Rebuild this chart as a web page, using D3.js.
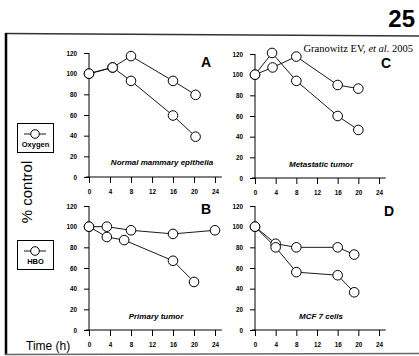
<!DOCTYPE html>
<html><head><meta charset="utf-8">
<script src="https://cdn.jsdelivr.net/npm/d3@7"></script>
<style>
html,body{margin:0;padding:0;background:#fff;}
svg{display:block;}
text{font-family:"Liberation Sans",Arial,sans-serif;}
</style></head>
<body>
<script>
// ---- data ----
const timeTicks = [0, 4, 8, 12, 16, 20, 24];
const pctTicks = [0, 20, 40, 60, 80, 100, 120];
const panelLetters = ["A", "C", "B", "D"];
const panelTitles = ["Normal mammary epithelia", "Metastatic tumor", "Primary tumor", "MCF 7 cells"];
const seriesNames = ["Oxygen", "HBO"];
// [time (h), % control]
const oxygenA = [[0,100],[4.5,106],[8,117],[16,93],[20.3,79.5]];
const hboA    = [[0,100],[4.5,106],[8,93],[16,59.5],[20.3,39]];
const oxygenC = [[0,100],[3.4,107],[8,117.5],[16,90],[20,86.5]];
const hboC    = [[0,100],[3.3,121],[8,94],[16,60],[20,46.5]];
const oxygenB = [[0,100],[3.4,100],[8,96.5],[16,93],[24,96.5]];
const hboB    = [[0,100],[3.4,90],[6.7,87],[16,67],[20,46.5]];
const oxygenD = [[0,100],[4,83.5],[8,80],[16,80],[19.2,73]];
const hboD    = [[0,100],[4,80],[8,56],[16,53],[19.2,36.5]];
const panelSeries = [[oxygenA, hboA], [oxygenC, hboC], [oxygenB, hboB], [oxygenD, hboD]];

// ---- layout ----
const W = 419, H = 356;
const svg = d3.select("body").append("svg").attr("width", W).attr("height", H);

// page number
svg.append("text").attr("x", 415).attr("y", 27).attr("text-anchor", "end")
  .style("font-family", "'Liberation Sans Narrow','Arial Narrow','Liberation Sans',sans-serif")
  .style("font-weight", "bold").style("font-size", "24px").text("25");

// frame
svg.append("line").attr("x1", 5).attr("y1", 33.5).attr("x2", 419).attr("y2", 36)
  .attr("stroke", "#333").attr("stroke-width", 1.6);
svg.append("line").attr("x1", 6).attr("y1", 33).attr("x2", 6).attr("y2", 355)
  .attr("stroke", "#000").attr("stroke-width", 2.5);
svg.append("line").attr("x1", 5).attr("y1", 354.5).attr("x2", 419).attr("y2", 353.5)
  .attr("stroke", "#666").attr("stroke-width", 1.5);

// citation
const cit = svg.append("text").attr("x", 413).attr("y", 52).attr("text-anchor", "end")
  .style("font-family", "'Liberation Serif','Times New Roman',serif").style("font-size", "10.5px");
cit.append("tspan").text("Granowitz EV, ");
cit.append("tspan").style("font-style", "italic").text("et al.");
cit.append("tspan").text(" 2005");

const panelGeo = [
  {x0: 89, x1: 215, y0: 177, y1: 53, lx: 206, ly: 67, tx: 162, ty: 165},
  {x0: 255, x1: 379, y0: 178, y1: 54, lx: 386, ly: 68, tx: 321, ty: 167},
  {x0: 89, x1: 215, y0: 330, y1: 206, lx: 206, ly: 214, tx: 156, ty: 319},
  {x0: 255, x1: 379, y0: 330, y1: 206, lx: 389, ly: 216, tx: 321, ty: 319}
];

panelGeo.forEach((g, i) => {
  const x = d3.scaleLinear().domain([0, 24]).range([g.x0, g.x1]);
  const y = d3.scaleLinear().domain([0, 120]).range([g.y0, g.y1]);
  const gp = svg.append("g");

  // y axis
  const ya = gp.append("g").attr("transform", `translate(${g.x0},0)`)
    .call(d3.axisLeft(y).tickValues(pctTicks).tickSize(5).tickPadding(7));
  ya.select(".domain").attr("d", `M0,${g.y0}V${g.y1}`).attr("stroke-width", 1);
  ya.selectAll("text").style("font-size", "6.3px").style("font-weight", "bold");

  // x axis
  const xa = gp.append("g").attr("transform", `translate(0,${g.y0})`)
    .call(d3.axisBottom(x).tickValues(timeTicks).tickSize(6).tickPadding(7));
  xa.select(".domain").attr("d", `M${x(-0.6)},0H${x(25.3)}`).attr("stroke-width", 1);
  xa.selectAll("text").style("font-size", "6.3px").style("font-weight", "bold");

  // series
  const line = d3.line().x(d => x(d[0])).y(d => y(d[1]));
  panelSeries[i].forEach(s => {
    gp.append("path").datum(s).attr("d", line).attr("fill", "none")
      .attr("stroke", "#000").attr("stroke-width", 0.9);
  });
  panelSeries[i].forEach(s => {
    gp.selectAll(null).data(s).enter().append("circle")
      .attr("cx", d => x(d[0])).attr("cy", d => y(d[1])).attr("r", 4.8)
      .attr("fill", "#fff").attr("stroke", "#000").attr("stroke-width", 1);
  });

  // letter
  gp.append("text").attr("x", g.lx).attr("y", g.ly).attr("text-anchor", "middle")
    .style("font-weight", "bold").style("font-size", "14px").text(panelLetters[i]);
  // title
  gp.append("text").attr("x", g.tx).attr("y", g.ty).attr("text-anchor", "middle")
    .style("font-weight", "bold").style("font-style", "italic").style("font-size", "8px")
    .text(panelTitles[i]);
});

// legend boxes
const legendGeo = [{y: 123}, {y: 240}];
legendGeo.forEach((l, i) => {
  const lg = svg.append("g").attr("transform", `translate(17,${l.y})`);
  lg.append("rect").attr("x", 0.5).attr("y", 0.5).attr("width", 36).attr("height", 29)
    .attr("fill", "#fff").attr("stroke", "#000").attr("stroke-width", 1);
  lg.append("line").attr("x1", 7).attr("x2", 29).attr("y1", 11).attr("y2", 11)
    .attr("stroke", "#000").attr("stroke-width", 0.9);
  lg.append("circle").attr("cx", 18).attr("cy", 11).attr("r", 4.3)
    .attr("fill", "#fff").attr("stroke", "#000").attr("stroke-width", 1);
  lg.append("text").attr("x", 18.5).attr("y", 24).attr("text-anchor", "middle")
    .style("font-weight", "bold").style("font-size", "7.5px").text(seriesNames[i]);
});

// y label
svg.append("text").attr("transform", "translate(32,192) rotate(-90)")
  .attr("text-anchor", "middle").style("font-size", "15px").text("% control");

// x label
svg.append("text").attr("x", 26).attr("y", 350).style("font-size", "12px").text("Time (h)");
</script>
</body></html>
